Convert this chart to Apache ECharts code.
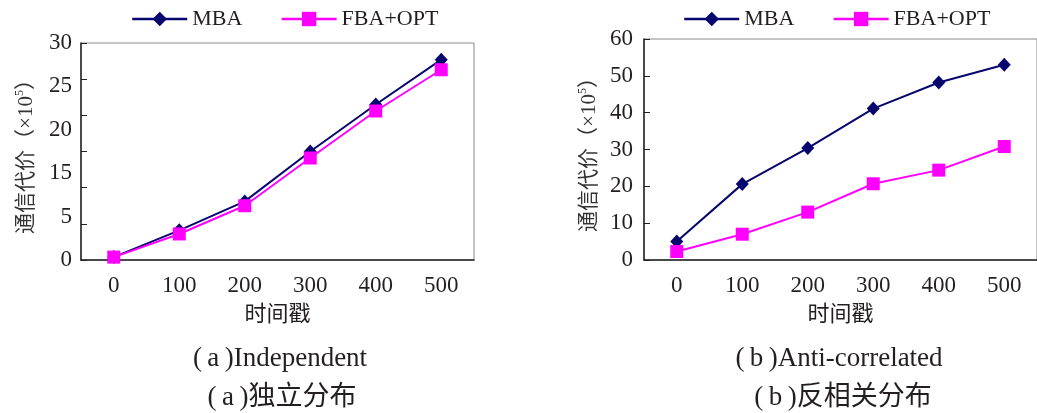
<!DOCTYPE html>
<html>
<head>
<meta charset="utf-8">
<script src="https://cdn.jsdelivr.net/npm/echarts@6/dist/echarts.min.js"></script>
<style>
  html, body { margin: 0; padding: 0; background: #ffffff; }
  #chart { width: 1037px; height: 413px; }
</style>
</head>
<body>
<div id="chart"></div>
<script>
// 横轴：时间戳
const timestamps = ['0', '100', '200', '300', '400', '500']

// (a) Independent
const indepMBA = [0.4, 4.1, 8.1, 15.0, 21.5, 27.7]
const indepFBA = [0.4, 3.6, 7.5, 14.1, 20.6, 26.3]
// 原图左侧纵轴刻度文字（与刻度不对齐，原样保留）
const indepTickLabels = ['0', '5', '15', '20', '25', '30']

// (b) Anti-correlated
const antiMBA = [5.0, 20.6, 30.4, 41.1, 48.2, 53.0]
const antiFBA = [2.3, 7.0, 13.0, 20.7, 24.4, 30.8]

const FONT = "'Liberation Serif', 'Noto Sans CJK SC', serif"
const TEXT = '#231f20'
const NAVY = '#06066e'
const MAGENTA = '#ff00ff'

const chart = echarts.init(document.getElementById('chart'))

const yName = '（×10{sup|5}）'
const yNameStyle = {
  fontSize: 21,
  fontFamily: FONT,
  color: '#333',
  rich: {
    sup: { fontSize: 12, fontFamily: FONT, color: '#333', verticalAlign: 'top', padding: [0, 0, 12, 0] },
  },
}

const xAxisBase = (gridIndex) => ({
  type: 'category',
  gridIndex,
  data: timestamps,
  boundaryGap: true,
  name: '时间戳',
  nameLocation: 'middle',
  nameGap: 44,
  nameTextStyle: { fontSize: 22, fontFamily: FONT, color: TEXT },
  axisLine: { lineStyle: { color: '#222', width: 1.5 } },
  axisTick: { inside: true, length: 6, lineStyle: { color: '#222' } },
  axisLabel: { fontSize: 23, fontFamily: FONT, color: TEXT, margin: 14 },
  splitLine: { show: false },
})

const legendBase = (left) => ({
  left,
  top: 8,
  padding: 0,
  itemWidth: 55,
  itemHeight: 18,
  itemGap: 38,
  lineStyle: { width: 2.5 },
  textStyle: { fontSize: 22, fontFamily: FONT, color: TEXT },
  data: ['MBA', 'FBA+OPT'],
})

const lineSeries = (name, data, axisIdx, yIdx) => {
  const isMBA = name === 'MBA'
  const color = isMBA ? NAVY : MAGENTA
  return {
    name,
    type: 'line',
    xAxisIndex: axisIdx,
    yAxisIndex: yIdx,
    data,
    symbol: isMBA ? 'diamond' : 'rect',
    symbolSize: isMBA ? [13, 14] : 13,
    lineStyle: { width: 2, color },
    itemStyle: { color },
    z: isMBA ? 2 : 3,
  }
}

const captionStyle = { fontSize: 27, fontWeight: 'normal', fontFamily: FONT, color: TEXT }

chart.setOption({
  animation: false,
  legend: [legendBase(131), legendBase(683)],
  grid: [
    { left: 81, top: 43, width: 393, height: 217, show: true, borderColor: '#8a8a8a', borderWidth: 1 },
    { left: 644, top: 39, width: 399, height: 221, show: true, borderColor: '#8a8a8a', borderWidth: 1 },
  ],
  xAxis: [xAxisBase(0), xAxisBase(1)],
  yAxis: [
    {
      // 左图：实际刻度 0-30
      type: 'value',
      gridIndex: 0,
      min: 0,
      max: 30,
      interval: 5,
      name: '通信代价' + yName,
      nameLocation: 'middle',
      nameGap: 43,
      nameTextStyle: yNameStyle,
      axisLine: { show: true, lineStyle: { color: '#222', width: 1.5 } },
      axisTick: { show: true, inside: true, length: 6, lineStyle: { color: '#222' } },
      axisLabel: { show: false },
      splitLine: { show: false },
    },
    {
      // 左图：只用于显示原图的刻度文字
      type: 'value',
      gridIndex: 0,
      position: 'left',
      min: 0,
      max: 5,
      interval: 1,
      axisLine: { show: false },
      axisTick: { show: false },
      splitLine: { show: false },
      axisLabel: {
        fontSize: 23,
        fontFamily: FONT,
        color: TEXT,
        margin: 9,
        formatter: (v) => indepTickLabels[Math.round(v)],
      },
    },
    {
      type: 'value',
      gridIndex: 1,
      min: 0,
      max: 60,
      interval: 10,
      name: '通信代价' + yName,
      nameLocation: 'middle',
      nameGap: 43,
      nameTextStyle: yNameStyle,
      axisLine: { show: true, lineStyle: { color: '#222', width: 1.5 } },
      axisTick: { show: true, inside: true, length: 6, lineStyle: { color: '#222' } },
      axisLabel: { fontSize: 23, fontFamily: FONT, color: TEXT, margin: 11 },
      splitLine: { show: false },
    },
  ],
  title: [
    { text: '(\u2009a\u2009)Independent', left: 275, top: 340, textAlign: 'center', textStyle: captionStyle },
    { text: '(\u2009a\u2009)独立分布', left: 277, top: 379, textAlign: 'center', textStyle: captionStyle },
    { text: '(\u2009b\u2009)Anti-correlated', left: 834, top: 340, textAlign: 'center', textStyle: captionStyle },
    { text: '(\u2009b\u2009)反相关分布', left: 838, top: 379, textAlign: 'center', textStyle: captionStyle },
  ],
  series: [
    lineSeries('MBA', indepMBA, 0, 0),
    lineSeries('FBA+OPT', indepFBA, 0, 0),
    lineSeries('MBA', antiMBA, 1, 2),
    lineSeries('FBA+OPT', antiFBA, 1, 2),
  ],
})
</script>
</body>
</html>
